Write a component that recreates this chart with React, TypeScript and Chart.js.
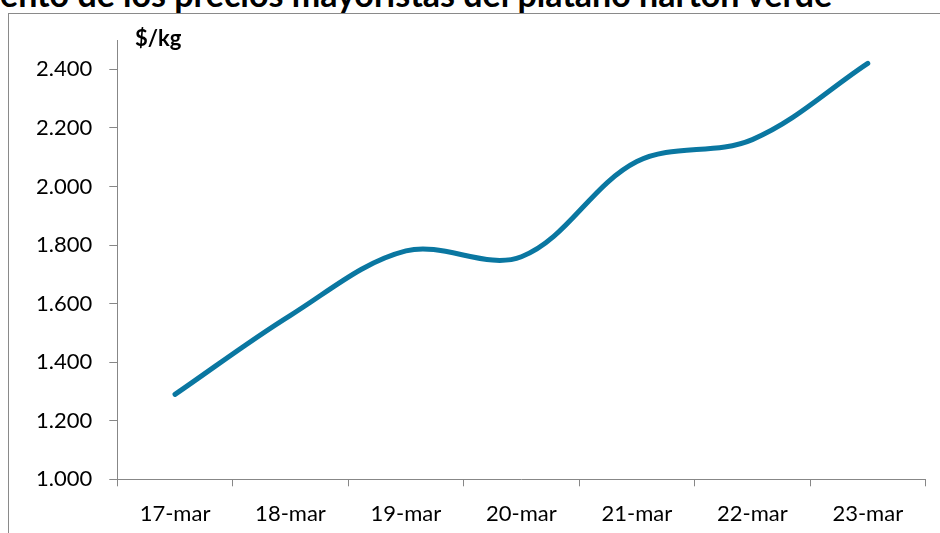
import React, { useEffect, useRef } from "react";
import { Chart, registerables } from "chart.js";

Chart.register(...registerables);

const categories = ["17-mar", "18-mar", "19-mar", "20-mar", "21-mar", "22-mar", "23-mar"];
const prices = [1290, 1560, 1780, 1760, 2085, 2160, 2420];
const yMin = 1000;
const yMax = 2500;
const yStep = 200;
const titleText = "ento de los precios mayoristas del plátano hartón verde";
const unitText = "$/kg";

const FONT = "Lato, 'Open Sans', sans-serif";
const AXIS = "#878787";

export default function App() {
  const ref = useRef<HTMLCanvasElement | null>(null);

  useEffect(() => {
    if (!ref.current) return;
    const chart = new Chart(ref.current, {
      type: "line",
      data: {
        labels: categories,
        datasets: [
          {
            data: prices,
            borderColor: "#0a77a1",
            borderWidth: 5,
            borderCapStyle: "round",
            borderJoinStyle: "round",
            pointRadius: 0,
            tension: 0.35,
            fill: false,
          },
        ],
      },
      options: {
        animation: false,
        responsive: false,
        devicePixelRatio: 1,
        layout: { padding: { top: 40, right: 14.5, left: 0, bottom: 0 } },
        plugins: { legend: { display: false }, tooltip: { enabled: false }, title: { display: false } },
        scales: {
          x: {
            offset: true,
            grid: { offset: true, drawOnChartArea: false, drawTicks: true, tickLength: 7, color: AXIS },
            border: { display: true, color: AXIS, width: 1 },
            ticks: { color: "#000", font: { family: FONT, size: 22 }, padding: 14, maxRotation: 0 },
            afterFit: (s: any) => {
              s.height = 53.7;
            },
          },
          y: {
            min: yMin,
            max: yMax,
            grid: { drawOnChartArea: false, drawTicks: true, tickLength: 8, color: AXIS },
            border: { display: true, color: AXIS, width: 1 },
            ticks: {
              stepSize: yStep,
              color: "#000",
              font: { family: FONT, size: 22 },
              padding: 17,
              callback: (v: any) => (Number(v) / 1000).toFixed(3),
            },
            afterBuildTicks: (s: any) => {
              s.ticks = s.ticks.filter((t: any) => t.value <= 2400);
            },
            afterFit: (s: any) => {
              s.width = 117.3;
            },
          },
        },
      },
    });
    return () => chart.destroy();
  }, []);

  return (
    <div
      style={{
        position: "fixed",
        left: 0,
        top: 0,
        width: 940,
        height: 533,
        overflow: "hidden",
        background: "#fff",
      }}
    >
      <div
        style={{
          position: "absolute",
          left: 8,
          top: 12.5,
          width: 2000,
          height: 2000,
          border: "1px solid #8a8a8a",
        }}
      />
      <div
        style={{
          position: "absolute",
          left: 0,
          top: -23.5,
          whiteSpace: "nowrap",
          fontFamily: FONT,
          fontWeight: 700,
          fontSize: 34,
          lineHeight: 1,
          color: "#000",
        }}
      >
        {titleText}
      </div>
      <canvas ref={ref} width={940} height={533} style={{ position: "absolute", left: 0, top: 0 }} />
      <div
        style={{
          position: "absolute",
          left: 135,
          top: 26.5,
          fontFamily: FONT,
          fontWeight: 700,
          fontSize: 22,
          lineHeight: 1,
          color: "#000",
        }}
      >
        {unitText}
      </div>
    </div>
  );
}
